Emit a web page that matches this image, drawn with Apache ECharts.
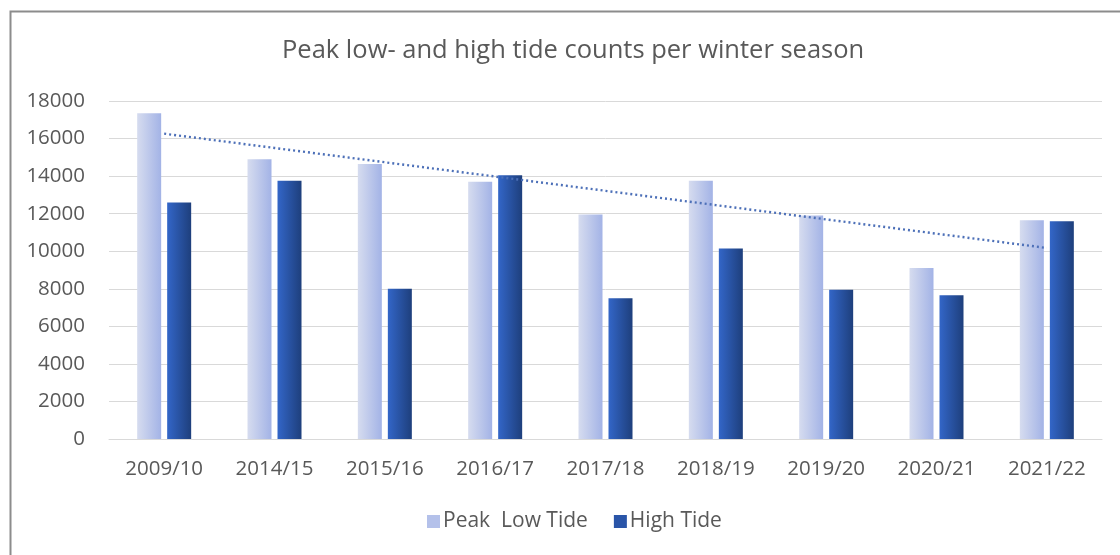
<!DOCTYPE html>
<html>
<head>
<meta charset="utf-8">
<script src="https://cdn.jsdelivr.net/npm/echarts@6/dist/echarts.min.js"></script>
<style>
html,body{margin:0;padding:0;background:#fff;}
#chart{width:1120px;height:555px;}
</style>
</head>
<body>
<div id="chart"></div>
<script>
const categories = ['2009/10','2014/15','2015/16','2016/17','2017/18','2018/19','2019/20','2020/21','2021/22'];
const peakLowTide = [17350,14900,14650,13700,11950,13750,11900,9100,11650];
const highTide = [12600,13750,8000,14050,7500,10150,7950,7650,11600];
const yTicks = [0,2000,4000,6000,8000,10000,12000,14000,16000,18000];

// Linear trendline (least squares) of Peak Low Tide, as in the original spreadsheet chart
function linearTrend(vals){
  const n = vals.length;
  let sx=0, sy=0, sxy=0, sxx=0;
  vals.forEach((v,i)=>{ sx+=i; sy+=v; sxy+=i*v; sxx+=i*i; });
  const b = (n*sxy - sx*sy)/(n*sxx - sx*sx);
  const a = (sy - b*sx)/n;
  return vals.map((_,i)=>+(a+b*i).toFixed(1));
}
const trend = linearTrend(peakLowTide);

const font = '"Open Sans", "Liberation Sans", sans-serif';
const lightGrad = new echarts.graphic.LinearGradient(0,0,1,0,[
  {offset:0,color:'#d6dcef'},{offset:1,color:'#a3b3e6'}]);
const darkGrad = new echarts.graphic.LinearGradient(0,0,1,0,[
  {offset:0,color:'#3366c8'},{offset:1,color:'#1e3f7c'}]);

const chart = echarts.init(document.getElementById('chart'));
chart.setOption({
  backgroundColor:'#ffffff',
  animation:false,
  graphic:[{
    type:'rect', left:8, top:9, shape:{width:1130, height:570},
    style:{fill:'none', stroke:'#8c8c8c', lineWidth:2}, silent:true
  }],
  title:{
    text:'Peak low- and high tide counts per winter season',
    left:277, top:33,
    textStyle:{fontFamily:font, fontSize:25.5, fontWeight:'normal', color:'#595959'}
  },
  legend:{
    bottom:18, left:422,
    itemWidth:13, itemHeight:13, itemGap:26,
    icon:'rect',
    textStyle:{fontFamily:font, fontSize:21, color:'#595959', padding:[0,0,0,-2]},
    data:[
      {name:'Peak  Low Tide', itemStyle:{color:'#b4c1ea'}},
      {name:'High Tide', itemStyle:{color:'#2a55a8'}}
    ]
  },
  grid:{left:109, right:18, top:101, bottom:116},
  xAxis:{
    type:'category', data:categories,
    axisLine:{lineStyle:{color:'#d9d9d9', width:1}},
    axisTick:{show:false},
    axisLabel:{fontFamily:font, fontSize:20.5, color:'#595959', margin:20}
  },
  yAxis:{
    type:'value', min:0, max:18000, interval:2000,
    axisLine:{show:false}, axisTick:{show:false},
    splitLine:{lineStyle:{color:'#d9d9d9', width:1}},
    axisLabel:{fontFamily:font, fontSize:20.5, color:'#595959', margin:24,
      formatter:v=>yTicks.includes(v)?String(v):''}
  },
  series:[
    {name:'Peak  Low Tide', type:'bar', data:peakLowTide, barWidth:24, barGap:'25%',
      itemStyle:{color:lightGrad}},
    {name:'High Tide', type:'bar', data:highTide, barWidth:24,
      itemStyle:{color:darkGrad}},
    {name:'Trend', type:'line', data:trend, symbol:'none', z:5,
      lineStyle:{color:'#4d70b8', width:2.4, type:[2,3]}}
  ]
});
</script>
</body>
</html>
